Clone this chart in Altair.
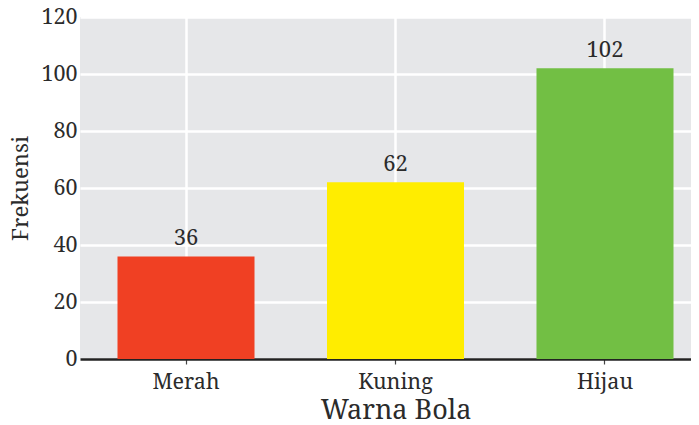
import altair as alt
import pandas as pd

categories = ["Merah", "Kuning", "Hijau"]
values = [36, 62, 102]
colors = ["#F04023", "#FFED00", "#72BF44"]
y_ticks = [0, 20, 40, 60, 80, 100, 120]

df = pd.DataFrame({"Warna Bola": categories, "Frekuensi": values})

FONT = "Noto Serif, DejaVu Serif"
TXT = "#2b2b2b"

x_scale = alt.Scale(domain=categories, range=[0, 631], paddingInner=0.346, paddingOuter=0.179)
y_scale = alt.Scale(domain=[0, 120], nice=False)

base = alt.Chart(df)

bars = base.mark_bar().encode(
    x=alt.X("Warna Bola:N", scale=x_scale, sort=categories,
            axis=alt.Axis(title="Warna Bola", labelAngle=0, grid=True, gridColor="white", gridWidth=2.5,
                          bandPosition=0.5, domainColor="#222222", domainWidth=2.5,
                          tickColor="#444444", tickSize=5, tickWidth=1.2,
                          labelFont=FONT, labelFontSize=21.5, labelColor=TXT, labelPadding=7,
                          titleFont=FONT, titleFontSize=27, titleFontWeight="normal", titleColor=TXT,
                          titlePadding=5)),
    y=alt.Y("Frekuensi:Q", scale=y_scale,
            axis=alt.Axis(title="Frekuensi", values=y_ticks, grid=True, gridColor="white", gridWidth=2.5,
                          domain=False, ticks=False, labelPadding=3,
                          labelFont=FONT, labelFontSize=21.5, labelColor=TXT,
                          titleFont=FONT, titleFontSize=22, titleFontWeight="normal", titleColor=TXT,
                          titlePadding=8)),
    color=alt.Color("Warna Bola:N", scale=alt.Scale(domain=categories, range=colors), legend=None),
)

labels = base.mark_text(baseline="alphabetic", dy=-11, font=FONT, fontSize=22, color=TXT).encode(
    x=alt.X("Warna Bola:N", scale=x_scale, sort=categories),
    y=alt.Y("Frekuensi:Q", scale=y_scale),
    text=alt.Text("Frekuensi:Q"),
)

chart = (bars + labels).properties(
    width=611, height=342,
    autosize=alt.AutoSizeParams(type="none"),
    padding={"left": 72, "top": 9, "right": 0, "bottom": 66},
).configure_view(fill="#E6E7E9", stroke=None)

chart.save("out.html", embed_options={"renderer": "svg", "actions": False})
